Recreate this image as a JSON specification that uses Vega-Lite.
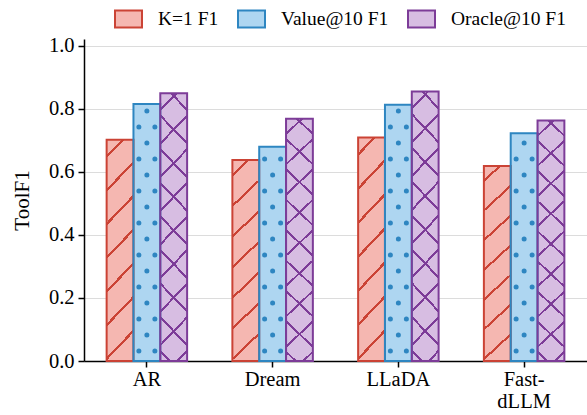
{
  "$schema": "https://vega.github.io/schema/vega-lite/v6.json",
  "autosize": "none",
  "padding": {"left": 84, "top": 39, "right": 0, "bottom": 54},
  "width": 503,
  "height": 322,
  "data": {"values": [
    {"model": "AR", "metric": "K=1 F1", "value": 0.702},
    {"model": "AR", "metric": "Value@10 F1", "value": 0.816},
    {"model": "AR", "metric": "Oracle@10 F1", "value": 0.850},
    {"model": "Dream", "metric": "K=1 F1", "value": 0.638},
    {"model": "Dream", "metric": "Value@10 F1", "value": 0.680},
    {"model": "Dream", "metric": "Oracle@10 F1", "value": 0.769},
    {"model": "LLaDA", "metric": "K=1 F1", "value": 0.709},
    {"model": "LLaDA", "metric": "Value@10 F1", "value": 0.813},
    {"model": "LLaDA", "metric": "Oracle@10 F1", "value": 0.855},
    {"model": "Fast-dLLM", "metric": "K=1 F1", "value": 0.619},
    {"model": "Fast-dLLM", "metric": "Value@10 F1", "value": 0.723},
    {"model": "Fast-dLLM", "metric": "Oracle@10 F1", "value": 0.763}
  ]},
  "encoding": {
    "x": {"field": "model", "type": "nominal", "sort": ["AR", "Dream", "LLaDA", "Fast-dLLM"],
      "scale": {"paddingInner": 0.36, "paddingOuter": 0.18},
      "axis": {"title": null, "labelAngle": 0, "labelFontSize": 20.5, "labelPadding": 2, "tickSize": 6, "grid": false,
        "labelExpr": "datum.label == 'Fast-dLLM' ? ['Fast-', 'dLLM'] : datum.label", "labelLineHeight": 22}},
    "y": {"field": "value", "type": "quantitative", "scale": {"domain": [0, 1.022], "nice": false},
      "axis": {"title": "ToolF1", "values": [0, 0.2, 0.4, 0.6, 0.8, 1.0], "format": ".1f", "grid": true,
        "labelFontSize": 20.5, "titleFontSize": 21, "titleFontWeight": "normal", "titleX": -52, "titleY": 161, "tickSize": 6, "labelPadding": 4}}
  },
  "layer": [
    {
      "mark": {"type": "bar", "strokeWidth": 0},
      "encoding": {
        "xOffset": {"field": "metric", "type": "nominal", "sort": ["K=1 F1", "Value@10 F1", "Oracle@10 F1"], "scale": {"paddingInner": 0, "paddingOuter": 0}},
        "fill": {"field": "metric", "type": "nominal", "sort": ["K=1 F1", "Value@10 F1", "Oracle@10 F1"],
          "scale": {"domain": ["K=1 F1", "Value@10 F1", "Oracle@10 F1"], "range": ["#f5b7b1", "#aed6f1", "#d7bde2"]},
          "legend": {"title": null, "orient": "none", "direction": "horizontal", "legendX": 30, "legendY": -35,
            "symbolType": "M-1,-0.63H1V0.63H-1Z", "symbolSize": 729, "symbolStrokeWidth": 2, "labelFontSize": 19.5,
            "labelOffset": 15, "columnPadding": 15, "padding": 0, "symbolOpacity": 1}}
      }
    },
    {
      "transform": [{"filter": "datum.metric == 'K=1 F1'"}],
      "mark": {"type": "bar", "strokeWidth": 0, "fill": {"gradient": "linear", "x1": 0, "y1": 0, "x2": 0.1409, "y2": 1.109, "stops": [
        {"offset": 0, "color": "rgba(203,67,53,0)"},
        {"offset": 0.0611, "color": "rgba(203,67,53,0)"}, {"offset": 0.0611, "color": "#cb4335"}, {"offset": 0.0741, "color": "#cb4335"}, {"offset": 0.0741, "color": "rgba(203,67,53,0)"},
        {"offset": 0.1963, "color": "rgba(203,67,53,0)"}, {"offset": 0.1963, "color": "#cb4335"}, {"offset": 0.2093, "color": "#cb4335"}, {"offset": 0.2093, "color": "rgba(203,67,53,0)"},
        {"offset": 0.3315, "color": "rgba(203,67,53,0)"}, {"offset": 0.3315, "color": "#cb4335"}, {"offset": 0.3445, "color": "#cb4335"}, {"offset": 0.3445, "color": "rgba(203,67,53,0)"},
        {"offset": 0.4667, "color": "rgba(203,67,53,0)"}, {"offset": 0.4667, "color": "#cb4335"}, {"offset": 0.4797, "color": "#cb4335"}, {"offset": 0.4797, "color": "rgba(203,67,53,0)"},
        {"offset": 0.6019, "color": "rgba(203,67,53,0)"}, {"offset": 0.6019, "color": "#cb4335"}, {"offset": 0.6149, "color": "#cb4335"}, {"offset": 0.6149, "color": "rgba(203,67,53,0)"},
        {"offset": 0.7371, "color": "rgba(203,67,53,0)"}, {"offset": 0.7371, "color": "#cb4335"}, {"offset": 0.7501, "color": "#cb4335"}, {"offset": 0.7501, "color": "rgba(203,67,53,0)"},
        {"offset": 0.8723, "color": "rgba(203,67,53,0)"}, {"offset": 0.8723, "color": "#cb4335"}, {"offset": 0.8853, "color": "#cb4335"}, {"offset": 0.8853, "color": "rgba(203,67,53,0)"},
        {"offset": 1, "color": "rgba(203,67,53,0)"}
      ]}},
      "encoding": {"xOffset": {"field": "metric", "type": "nominal", "sort": ["K=1 F1", "Value@10 F1", "Oracle@10 F1"]}}
    },
    {
      "transform": [{"filter": "datum.metric == 'Oracle@10 F1'"}],
      "mark": {"type": "bar", "strokeWidth": 0, "fill": {"gradient": "linear", "x1": 0, "y1": 0, "x2": 0.1144, "y2": 1.0927, "stops": [
        {"offset": 0, "color": "rgba(125,60,152,0)"},
        {"offset": 0.0518, "color": "rgba(125,60,152,0)"}, {"offset": 0.0518, "color": "#7d3c98"}, {"offset": 0.0618, "color": "#7d3c98"}, {"offset": 0.0618, "color": "rgba(125,60,152,0)"},
        {"offset": 0.1654, "color": "rgba(125,60,152,0)"}, {"offset": 0.1654, "color": "#7d3c98"}, {"offset": 0.1754, "color": "#7d3c98"}, {"offset": 0.1754, "color": "rgba(125,60,152,0)"},
        {"offset": 0.2790, "color": "rgba(125,60,152,0)"}, {"offset": 0.2790, "color": "#7d3c98"}, {"offset": 0.2890, "color": "#7d3c98"}, {"offset": 0.2890, "color": "rgba(125,60,152,0)"},
        {"offset": 0.3926, "color": "rgba(125,60,152,0)"}, {"offset": 0.3926, "color": "#7d3c98"}, {"offset": 0.4026, "color": "#7d3c98"}, {"offset": 0.4026, "color": "rgba(125,60,152,0)"},
        {"offset": 0.5062, "color": "rgba(125,60,152,0)"}, {"offset": 0.5062, "color": "#7d3c98"}, {"offset": 0.5162, "color": "#7d3c98"}, {"offset": 0.5162, "color": "rgba(125,60,152,0)"},
        {"offset": 0.6198, "color": "rgba(125,60,152,0)"}, {"offset": 0.6198, "color": "#7d3c98"}, {"offset": 0.6298, "color": "#7d3c98"}, {"offset": 0.6298, "color": "rgba(125,60,152,0)"},
        {"offset": 0.7334, "color": "rgba(125,60,152,0)"}, {"offset": 0.7334, "color": "#7d3c98"}, {"offset": 0.7434, "color": "#7d3c98"}, {"offset": 0.7434, "color": "rgba(125,60,152,0)"},
        {"offset": 0.8470, "color": "rgba(125,60,152,0)"}, {"offset": 0.8470, "color": "#7d3c98"}, {"offset": 0.8570, "color": "#7d3c98"}, {"offset": 0.8570, "color": "rgba(125,60,152,0)"},
        {"offset": 0.9606, "color": "rgba(125,60,152,0)"}, {"offset": 0.9606, "color": "#7d3c98"}, {"offset": 0.9706, "color": "#7d3c98"}, {"offset": 0.9706, "color": "rgba(125,60,152,0)"},
        {"offset": 1, "color": "rgba(125,60,152,0)"}
      ]}},
      "encoding": {"xOffset": {"field": "metric", "type": "nominal", "sort": ["K=1 F1", "Value@10 F1", "Oracle@10 F1"]}}
    },
    {
      "transform": [{"filter": "datum.metric == 'Oracle@10 F1'"}],
      "mark": {"type": "bar", "strokeWidth": 0, "fill": {"gradient": "linear", "x1": 1, "y1": 0, "x2": 0.8856, "y2": 1.0927, "stops": [
        {"offset": 0, "color": "rgba(125,60,152,0)"},
        {"offset": 0.0518, "color": "rgba(125,60,152,0)"}, {"offset": 0.0518, "color": "#7d3c98"}, {"offset": 0.0618, "color": "#7d3c98"}, {"offset": 0.0618, "color": "rgba(125,60,152,0)"},
        {"offset": 0.1654, "color": "rgba(125,60,152,0)"}, {"offset": 0.1654, "color": "#7d3c98"}, {"offset": 0.1754, "color": "#7d3c98"}, {"offset": 0.1754, "color": "rgba(125,60,152,0)"},
        {"offset": 0.2790, "color": "rgba(125,60,152,0)"}, {"offset": 0.2790, "color": "#7d3c98"}, {"offset": 0.2890, "color": "#7d3c98"}, {"offset": 0.2890, "color": "rgba(125,60,152,0)"},
        {"offset": 0.3926, "color": "rgba(125,60,152,0)"}, {"offset": 0.3926, "color": "#7d3c98"}, {"offset": 0.4026, "color": "#7d3c98"}, {"offset": 0.4026, "color": "rgba(125,60,152,0)"},
        {"offset": 0.5062, "color": "rgba(125,60,152,0)"}, {"offset": 0.5062, "color": "#7d3c98"}, {"offset": 0.5162, "color": "#7d3c98"}, {"offset": 0.5162, "color": "rgba(125,60,152,0)"},
        {"offset": 0.6198, "color": "rgba(125,60,152,0)"}, {"offset": 0.6198, "color": "#7d3c98"}, {"offset": 0.6298, "color": "#7d3c98"}, {"offset": 0.6298, "color": "rgba(125,60,152,0)"},
        {"offset": 0.7334, "color": "rgba(125,60,152,0)"}, {"offset": 0.7334, "color": "#7d3c98"}, {"offset": 0.7434, "color": "#7d3c98"}, {"offset": 0.7434, "color": "rgba(125,60,152,0)"},
        {"offset": 0.8470, "color": "rgba(125,60,152,0)"}, {"offset": 0.8470, "color": "#7d3c98"}, {"offset": 0.8570, "color": "#7d3c98"}, {"offset": 0.8570, "color": "rgba(125,60,152,0)"},
        {"offset": 0.9606, "color": "rgba(125,60,152,0)"}, {"offset": 0.9606, "color": "#7d3c98"}, {"offset": 0.9706, "color": "#7d3c98"}, {"offset": 0.9706, "color": "rgba(125,60,152,0)"},
        {"offset": 1, "color": "rgba(125,60,152,0)"}
      ]}},
      "encoding": {"xOffset": {"field": "metric", "type": "nominal", "sort": ["K=1 F1", "Value@10 F1", "Oracle@10 F1"]}}
    },
    {
      "transform": [{"filter": "datum.metric == 'Value@10 F1'"}],
      "mark": {"type": "rule", "color": "#2e86c1", "strokeWidth": 5, "strokeCap": "round", "strokeDash": [0.01, 31.99], "strokeDashOffset": 6},
      "encoding": {"y": {"datum": 0, "type": "quantitative"}, "y2": {"field": "value"}}
    },
    {
      "transform": [{"filter": "datum.metric == 'Value@10 F1'"}],
      "mark": {"type": "rule", "color": "#2e86c1", "strokeWidth": 5, "strokeCap": "round", "strokeDash": [0.01, 31.99], "strokeDashOffset": 22},
      "encoding": {
        "x": {"field": "model", "type": "nominal", "sort": ["AR", "Dream", "LLaDA", "Fast-dLLM"], "bandPosition": 0.4006},
        "y": {"datum": 0, "type": "quantitative"}, "y2": {"field": "value"}}
    },
    {
      "transform": [{"filter": "datum.metric == 'Value@10 F1'"}],
      "mark": {"type": "rule", "color": "#2e86c1", "strokeWidth": 5, "strokeCap": "round", "strokeDash": [0.01, 31.99], "strokeDashOffset": 22},
      "encoding": {
        "x": {"field": "model", "type": "nominal", "sort": ["AR", "Dream", "LLaDA", "Fast-dLLM"], "bandPosition": 0.5994},
        "y": {"datum": 0, "type": "quantitative"}, "y2": {"field": "value"}}
    },
    {
      "mark": {"type": "bar", "fillOpacity": 0, "strokeWidth": 2},
      "encoding": {
        "xOffset": {"field": "metric", "type": "nominal", "sort": ["K=1 F1", "Value@10 F1", "Oracle@10 F1"]},
        "stroke": {"field": "metric", "type": "nominal", "sort": ["K=1 F1", "Value@10 F1", "Oracle@10 F1"],
          "scale": {"domain": ["K=1 F1", "Value@10 F1", "Oracle@10 F1"], "range": ["#cb4335", "#2e86c1", "#7d3c98"]}}
      }
    }
  ],
  "config": {
    "view": {"stroke": null},
    "font": "Liberation Serif",
    "axis": {"labelFont": "Liberation Serif", "titleFont": "Liberation Serif", "labelColor": "#000000", "titleColor": "#000000",
      "domainColor": "#000000", "domainWidth": 1.5, "tickColor": "#000000", "tickWidth": 1.5, "gridColor": "#dcdcdc", "gridWidth": 1.2},
    "legend": {"labelFont": "Liberation Serif", "labelColor": "#000000"}
  }
}
